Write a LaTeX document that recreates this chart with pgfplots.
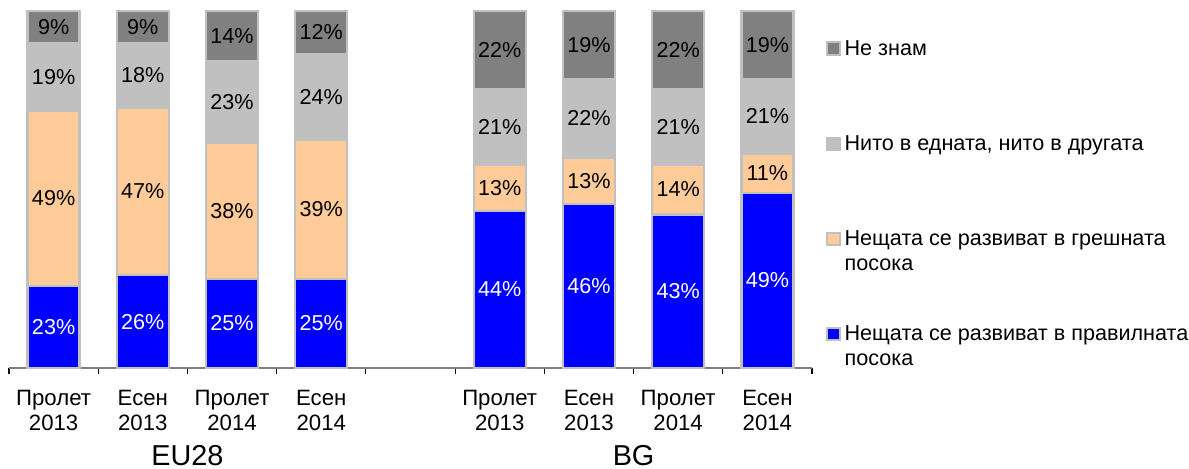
\documentclass[border=0pt]{standalone}
\usepackage{fontspec}
\setmainfont{Liberation Sans}
\usepackage{pgfplots}
\pgfplotsset{compat=1.18}
\definecolor{cBlue}{HTML}{0000FF}
\definecolor{cPeach}{HTML}{FFCC99}
\definecolor{cLight}{HTML}{C0C0C0}
\definecolor{cDark}{HTML}{808080}
\newcommand{\fs}{\fontsize{10.8}{12.5}\selectfont}
\newcommand{\fst}{\fontsize{11.1}{12.5}\selectfont}
\begin{document}
\begin{tikzpicture}[font=\fs]
\useasboundingbox (-4.5pt,-50pt) rectangle (590pt,184pt);
\begin{axis}[
  at={(0,0)}, anchor=south west,
  scale only axis, width=401.5pt, height=178.5pt,
  ybar stacked, bar width=26pt,
  xmin=-0.5, xmax=8.5, ymin=0, ymax=100,
  enlargelimits=false, clip=false,
  axis x line*=bottom, axis y line=none,
  x axis line style={draw=cDark, line width=0.8pt},
  xtick={0,1,2,3,5,6,7,8},
  xticklabels={{Пролет\\2013},{Есен\\2013},{Пролет\\2014},{Есен\\2014},{Пролет\\2013},{Есен\\2013},{Пролет\\2014},{Есен\\2014}},
  xticklabel style={align=center, inner sep=0pt, yshift=-11pt, font=\fst},
  major tick length=0pt,
  minor xtick={-0.5,0.5,...,8.5},
  minor tick length=3pt, tick align=outside,
  minor tick style={draw=black, line width=0.6pt},
  ytick=\empty,
  point meta=explicit symbolic,
  nodes near coords={\pgfplotspointmeta\%},
  every node near coord/.append style={font=\fs, anchor=center, inner sep=0pt},
  reverse legend,
  legend image code/.code={\draw[#1, draw=cLight, line width=1pt] (0.5pt,13pt) rectangle (6.6pt,19.1pt);},
  legend style={draw=none, fill=none, inner sep=0pt, font=\fs,
    at={(axis description cs:0,0)}, anchor=north west, xshift=408.5pt, yshift=163.8pt,
    row sep=26.1pt, column sep=2pt,
    cells={anchor=base west},
    nodes={inner sep=0pt, align=left}},
]
\addplot[fill=cBlue, draw=cLight, line width=1.2pt, every node near coord/.append style={text=white}]
  coordinates {(0,23)[23] (1,26)[26] (2,25)[25] (3,25)[25] (5,44)[44] (6,46)[46] (7,43)[43] (8,49)[49]};
\addlegendentry{Нещата се развиват в правилната\\посока}
\addplot[fill=cPeach, draw=cLight, line width=1.2pt, every node near coord/.append style={text=black}]
  coordinates {(0,49)[49] (1,47)[47] (2,38)[38] (3,39)[39] (5,13)[13] (6,13)[13] (7,14)[14] (8,11)[11]};
\addlegendentry{Нещата се развиват в грешната\\посока}
\addplot[fill=cLight, draw=cLight, line width=1.2pt, every node near coord/.append style={text=black}]
  coordinates {(0,19)[19] (1,18)[18] (2,23)[23] (3,24)[24] (5,21)[21] (6,22)[22] (7,21)[21] (8,21)[21]};
\addlegendentry{Нито в едната, нито в другата\\~}
\addplot[fill=cDark, draw=cLight, line width=1.2pt, every node near coord/.append style={text=black}]
  coordinates {(0,9)[9] (1,9)[9] (2,14)[14] (3,12)[12] (5,22)[22] (6,19)[19] (7,22)[22] (8,19)[19]};
\addlegendentry{Не знам\\~}
\node[font=\fontsize{14.4}{17}\selectfont, anchor=base, yshift=-48.5pt] at (axis cs:1.5,0) {EU28};
\node[font=\fontsize{14.4}{17}\selectfont, anchor=base, yshift=-48.5pt] at (axis cs:6.5,0) {BG};
\end{axis}
\end{tikzpicture}
\end{document}
